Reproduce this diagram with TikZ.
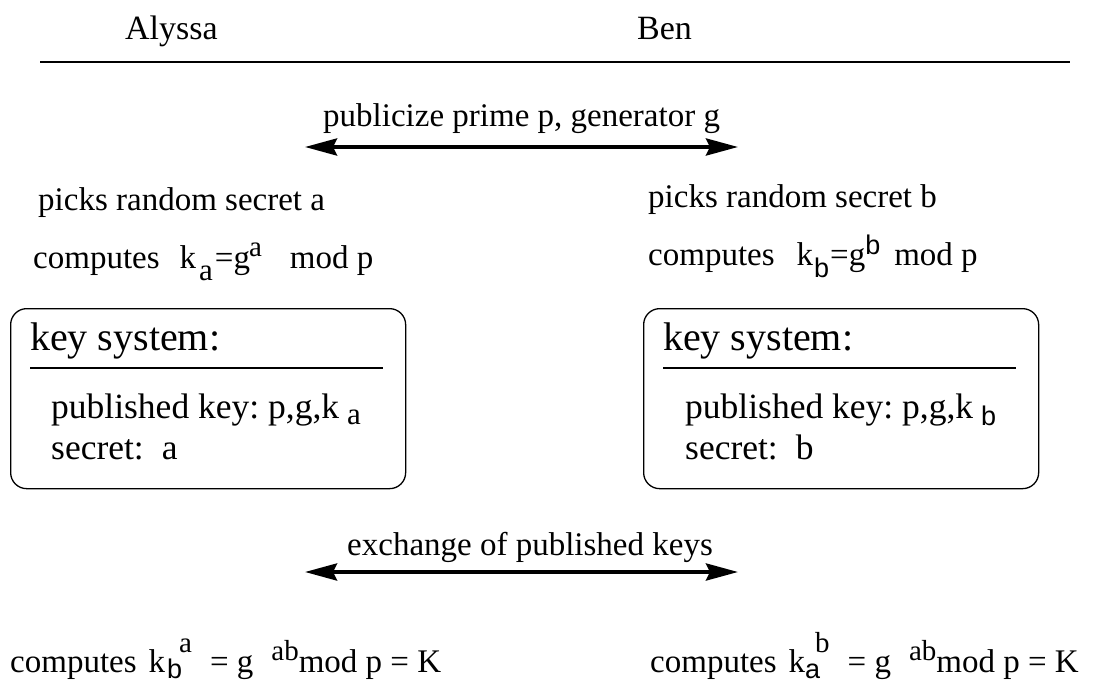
\documentclass[tikz,border=0pt]{standalone}
\usepackage{fontspec}
\setmainfont{Liberation Serif}
\newfontfamily\idxfont{Liberation Sans}
\usetikzlibrary{arrows.meta}
\frenchspacing

% lowered / raised index glyphs (sans and serif variants)
\newcommand\dn[2][11pt]{\raisebox{-#1}{\fontsize{27}{30}\idxfont #2}}
\newcommand\upr[2][13pt]{\raisebox{#1}{\fontsize{27}{30}\idxfont #2}}
\newcommand\dnrm[2][11pt]{\raisebox{-#1}{\fontsize{31}{34}\selectfont #2}}
\newcommand\uprm[2][13pt]{\raisebox{#1}{\fontsize{29}{32}\selectfont #2}}

\begin{document}
\begin{tikzpicture}[x=1pt,y=-1pt,
  txt/.style={anchor=base west, inner sep=0pt, font=\fontsize{33}{40}\selectfont},
  boxtxt/.style={anchor=base west, inner sep=0pt, font=\fontsize{35.5}{42}\selectfont},
  party/.style={anchor=base west, inner sep=0pt, font=\fontsize{34}{40}\selectfont},
  ksys/.style={anchor=base west, inner sep=0pt, font=\fontsize{40}{48}\selectfont},
  keybox/.style={draw, line width=1.3pt, rounded corners=16pt},
  rule/.style={line width=1.3pt},
  xchg/.style={line width=4pt, {Stealth[length=32pt,width=17pt,inset=4pt]}-{Stealth[length=32pt,width=17pt,inset=4pt]}}
]
\useasboundingbox (0,0) rectangle (1095,682);

% parties
\node[party] (alyssa) at (125,40) {Alyssa};
\node[party] (ben) at (637,40) {Ben};
\coordinate (hl) at (40,62);
\coordinate (hr) at (1070,62);
\draw[rule] (hl) -- (hr);

% public parameters
\node[txt] (pub) at (323,127) {publicize prime p, generator g};
\coordinate (p1l) at (305,147);
\coordinate (p1r) at (738,147);
\draw[xchg] (p1l) -- (p1r);

% secrets and published values
\node[txt] (pickA) at (38,210) {picks random secret a};
\node[txt] (compA) at (33,268) {computes\hspace{20pt}k\hspace{3pt}\dnrm[12pt]{a}\hspace{2pt}=g\hspace{-1pt}\uprm[12pt]{a}\hspace{28pt}mod p};
\node[txt] (pickB) at (648,207) {picks random secret b};
\node[txt] (compB) at (648,265) {computes\hspace{22pt}k\hspace{1pt}\dn[12pt]{b}\hspace{1pt}=g\upr[11pt]{b}\hspace{14pt}mod p};

% key systems
\node[keybox, minimum width=395pt, minimum height=180pt, anchor=north west] (boxA) at (10,308) {};
\node[ksys] (ksA) at (30,350) {key system:};
\coordinate (sAl) at (30,368);
\coordinate (sAr) at (383,368);
\draw[rule] (sAl) -- (sAr);
\node[boxtxt] (pkA) at (51,418) {published key: p,g,k\hspace{8pt}\dnrm[6pt]{a}};
\node[boxtxt] (scA) at (51,459) {secret:\hspace{18pt}a};

\node[keybox, minimum width=395pt, minimum height=180pt, anchor=north west] (boxB) at (643,308) {};
\node[ksys] (ksB) at (663,350) {key system:};
\coordinate (sBl) at (663,368);
\coordinate (sBr) at (1016,368);
\draw[rule] (sBl) -- (sBr);
\node[boxtxt] (pkB) at (685,418) {published key: p,g,k\hspace{8pt}\dn[7pt]{b}};
\node[boxtxt] (scB) at (685,459) {secret:\hspace{18pt}b};

% exchange
\node[txt] (ex) at (347,555) {exchange of published keys};
\coordinate (p2l) at (305,572);
\coordinate (p2r) at (738,572);
\draw[xchg] (p2l) -- (p2r);

% shared key
\node[txt] (kA) at (10,672) {computes\hspace{12pt}k\hspace{2pt}\dn[6pt]{b}\hspace{-3pt}\uprm[20pt]{a}\hspace{18pt}= g\hspace{18pt}\uprm[12pt]{ab}mod p = K};
\node[txt] (kB) at (650,672) {computes\hspace{12pt}k\hspace{0pt}\dn[6pt]{a}\hspace{-5pt}\uprm[20pt]{b}\hspace{18pt}= g\hspace{18pt}\uprm[12pt]{ab}mod p = K};
\end{tikzpicture}
\end{document}
